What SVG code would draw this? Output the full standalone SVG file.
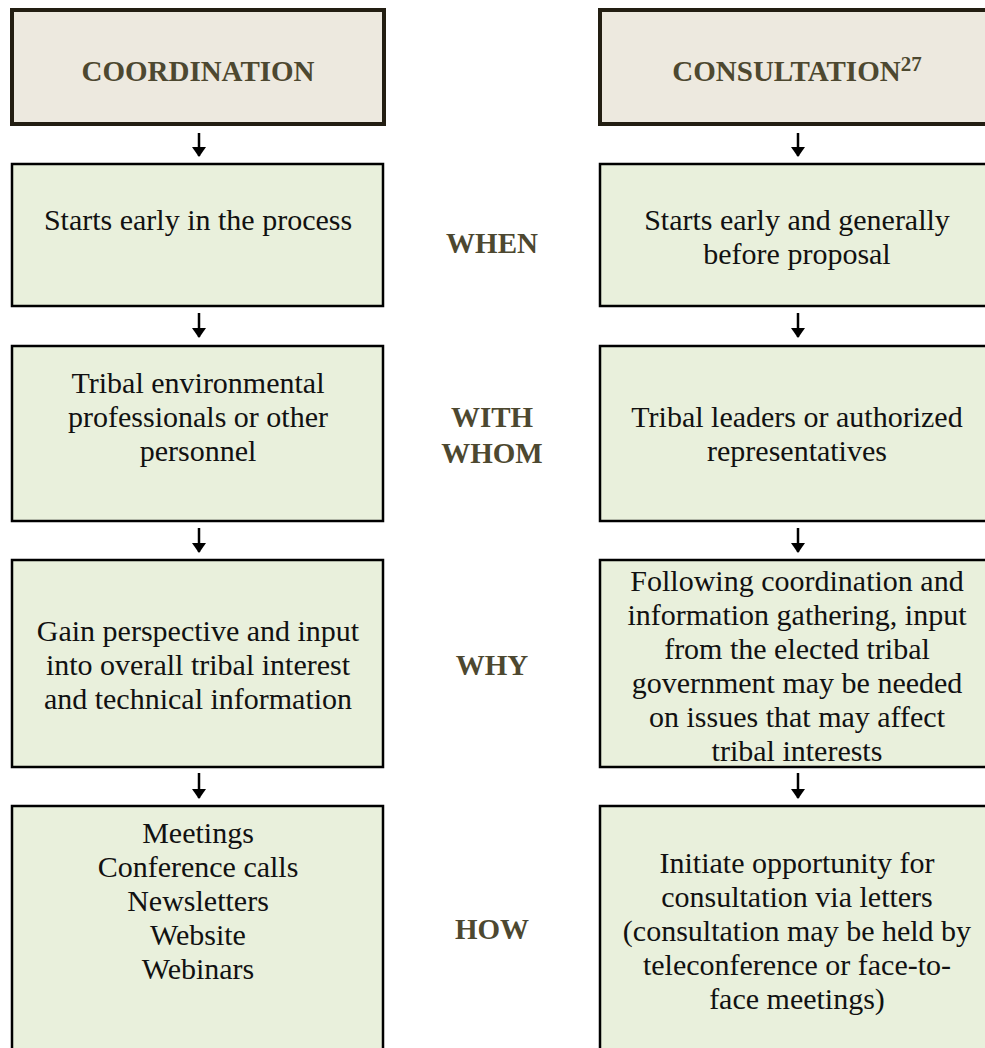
<svg xmlns="http://www.w3.org/2000/svg" width="985" height="1048" viewBox="0 0 985 1048">
<defs>
<marker id="ah" viewBox="0 0 10 14" refX="9" refY="7" markerWidth="10" markerHeight="14" markerUnits="userSpaceOnUse" orient="auto">
<path d="M0,0 L10,7 L0,14 Z" fill="#000"/>
</marker>
<style>
.hdr{fill:#ede9df;stroke:#231e12;stroke-width:4}
.box{fill:#e9f0dc;stroke:#000;stroke-width:2.5}
.ht{font-family:"Liberation Serif",serif;font-weight:bold;font-size:29px;fill:#4d4830;text-anchor:middle}
.lb{font-family:"Liberation Serif",serif;font-weight:bold;font-size:29px;fill:#4d4830;text-anchor:middle}
.t{font-family:"Liberation Serif",serif;font-size:30px;fill:#111;text-anchor:middle}
.c{stroke:#000;stroke-width:2.5;fill:none}
</style>
</defs>
<rect width="985" height="1048" fill="#fff"/>

<g id="head-coordination">
<rect class="hdr" x="12" y="10" width="372" height="114"/>
<text class="ht" x="198" y="81">COORDINATION</text>
</g>
<g id="head-consultation">
<rect class="hdr" x="600" y="10" width="400" height="114"/>
<text class="ht" x="797" y="81">CONSULTATION<tspan font-size="21" dy="-10">27</tspan></text>
</g>

<g id="coord-when">
<rect class="box" x="12" y="164" width="371" height="142"/>
<text class="t" x="198" y="230">Starts early in the process</text>
</g>
<g id="cons-when">
<rect class="box" x="600" y="164" width="400" height="142"/>
<text class="t" x="797" y="230">Starts early and generally</text>
<text class="t" x="797" y="264">before proposal</text>
</g>

<g id="coord-whom">
<rect class="box" x="12" y="346" width="371" height="175"/>
<text class="t" x="198" y="393">Tribal environmental</text>
<text class="t" x="198" y="427">professionals or other</text>
<text class="t" x="198" y="461">personnel</text>
</g>
<g id="cons-whom">
<rect class="box" x="600" y="346" width="400" height="175"/>
<text class="t" x="797" y="427">Tribal leaders or authorized</text>
<text class="t" x="797" y="461">representatives</text>
</g>

<g id="coord-why">
<rect class="box" x="12" y="560" width="371" height="207"/>
<text class="t" x="198" y="641">Gain perspective and input</text>
<text class="t" x="198" y="675">into overall tribal interest</text>
<text class="t" x="198" y="709">and technical information</text>
</g>
<g id="cons-why">
<rect class="box" x="600" y="560" width="400" height="207"/>
<text class="t" x="797" y="591">Following coordination and</text>
<text class="t" x="797" y="625">information gathering, input</text>
<text class="t" x="797" y="659">from the elected tribal</text>
<text class="t" x="797" y="693">government may be needed</text>
<text class="t" x="797" y="727">on issues that may affect</text>
<text class="t" x="797" y="761">tribal interests</text>
</g>

<g id="coord-how">
<rect class="box" x="12" y="806" width="371" height="260"/>
<text class="t" x="198" y="843">Meetings</text>
<text class="t" x="198" y="877">Conference calls</text>
<text class="t" x="198" y="911">Newsletters</text>
<text class="t" x="198" y="945">Website</text>
<text class="t" x="198" y="979">Webinars</text>
</g>
<g id="cons-how">
<rect class="box" x="600" y="806" width="400" height="260"/>
<text class="t" x="797" y="873">Initiate opportunity for</text>
<text class="t" x="797" y="907">consultation via letters</text>
<text class="t" x="797" y="941">(consultation may be held by</text>
<text class="t" x="797" y="975">teleconference or face-to-</text>
<text class="t" x="797" y="1009">face meetings)</text>
</g>

<g id="label-when"><text class="lb" x="492" y="253">WHEN</text></g>
<g id="label-whom"><text class="lb" x="492" y="427">WITH</text><text class="lb" x="492" y="463">WHOM</text></g>
<g id="label-why"><text class="lb" x="492" y="675">WHY</text></g>
<g id="label-how"><text class="lb" x="492" y="939">HOW</text></g>

<g id="connectors">
<line class="c" x1="199" y1="133" x2="199" y2="156" marker-end="url(#ah)"/>
<line class="c" x1="798" y1="133" x2="798" y2="156" marker-end="url(#ah)"/>
<line class="c" x1="199" y1="313" x2="199" y2="337" marker-end="url(#ah)"/>
<line class="c" x1="798" y1="313" x2="798" y2="337" marker-end="url(#ah)"/>
<line class="c" x1="199" y1="528" x2="199" y2="552" marker-end="url(#ah)"/>
<line class="c" x1="798" y1="528" x2="798" y2="552" marker-end="url(#ah)"/>
<line class="c" x1="199" y1="773" x2="199" y2="798" marker-end="url(#ah)"/>
<line class="c" x1="798" y1="773" x2="798" y2="798" marker-end="url(#ah)"/>
</g>
</svg>
